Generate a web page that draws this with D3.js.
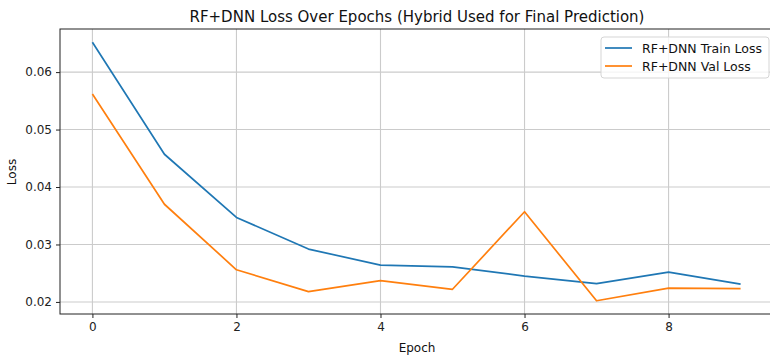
<!DOCTYPE html>
<html>
<head>
<meta charset="utf-8">
<script src="https://cdn.jsdelivr.net/npm/d3@7"></script>
<style>
  body { margin: 0; background: #fff; }
  svg { display: block; font-family: "DejaVu Sans", sans-serif; }
</style>
</head>
<body>
<svg id="chart" width="770" height="357"></svg>
<script>
// epochs and loss values
const epochs = [0, 1, 2, 3, 4, 5, 6, 7, 8, 9];
const trainLoss = [0.0652, 0.0457, 0.0347, 0.0292, 0.0264, 0.0261, 0.0245, 0.0232, 0.0252, 0.0231];
const valLoss = [0.0562, 0.0370, 0.0256, 0.0218, 0.0237, 0.0222, 0.0357, 0.0202, 0.0224, 0.0223];
const xTicks = [0, 2, 4, 6, 8];
const yTicks = [0.02, 0.03, 0.04, 0.05, 0.06];
const seriesNames = ["RF+DNN Train Loss", "RF+DNN Val Loss"];
const colors = ["#1f77b4", "#ff7f0e"];

const margin = {left: 60, top: 29, right: -3, bottom: 43};
const width = 770 - margin.left - margin.right;
const height = 357 - margin.top - margin.bottom;

const svg = d3.select("#chart");
const g = svg.append("g")
  .attr("transform", "translate(" + margin.left + "," + margin.top + ")");

const x = d3.scaleLinear().domain([-0.45, 9.45]).range([0, width]);
const y = d3.scaleLinear().domain([0.0179, 0.0675]).range([height, 0]);

// grid
g.append("g")
  .selectAll("line")
  .data(xTicks)
  .enter()
  .append("line")
  .attr("x1", d => x(d)).attr("x2", d => x(d))
  .attr("y1", 0).attr("y2", height)
  .attr("stroke", "#cbcbcb").attr("stroke-width", 1.1);

g.append("g")
  .selectAll("line")
  .data(yTicks)
  .enter()
  .append("line")
  .attr("x1", 0).attr("x2", width)
  .attr("y1", d => y(d)).attr("y2", d => y(d))
  .attr("stroke", "#cbcbcb").attr("stroke-width", 1.1);

// lines
const line = d3.line()
  .x((d, i) => x(epochs[i]))
  .y(d => y(d));

[trainLoss, valLoss].forEach((s, k) => {
  g.append("path")
    .datum(s)
    .attr("d", line)
    .attr("fill", "none")
    .attr("stroke", colors[k])
    .attr("stroke-width", 1.7)
    .attr("stroke-linejoin", "round");
});

// axes
const xAxis = g.append("g")
  .attr("transform", "translate(0," + height + ")")
  .call(d3.axisBottom(x).tickValues(xTicks).tickFormat(d3.format("d")).tickSizeOuter(0).tickSize(4).tickPadding(4));
const yAxis = g.append("g")
  .call(d3.axisLeft(y).tickValues(yTicks).tickFormat(d3.format(".2f")).tickSizeOuter(0).tickSize(4).tickPadding(4));
[xAxis, yAxis].forEach(a => {
  a.select(".domain").remove();
  a.selectAll("text").attr("font-size", 12).attr("fill", "#222")
    .attr("font-family", "DejaVu Sans, sans-serif");
  a.selectAll("line").attr("stroke", "#222");
});

// frame
g.append("rect")
  .attr("x", 0).attr("y", 0)
  .attr("width", width).attr("height", height)
  .attr("fill", "none").attr("stroke", "#222").attr("stroke-width", 1);

// labels
svg.append("text")
  .attr("x", 417).attr("y", 22)
  .attr("text-anchor", "middle")
  .attr("font-size", 15)
  .attr("fill", "#111")
  .text("RF+DNN Loss Over Epochs (Hybrid Used for Final Prediction)");

svg.append("text")
  .attr("x", 417).attr("y", 352)
  .attr("text-anchor", "middle")
  .attr("font-size", 12)
  .attr("fill", "#111")
  .text("Epoch");

svg.append("text")
  .attr("transform", "translate(16,172) rotate(-90)")
  .attr("text-anchor", "middle")
  .attr("font-size", 12)
  .attr("fill", "#111")
  .text("Loss");

// legend
const lg = svg.append("g").attr("transform", "translate(601,37)");
lg.append("rect")
  .attr("width", 168).attr("height", 41).attr("rx", 3)
  .attr("fill", "#fff").attr("fill-opacity", 0.8)
  .attr("stroke", "#d5d5d5");
seriesNames.forEach((name, k) => {
  const row = lg.append("g").attr("transform", "translate(0," + (11 + k * 18) + ")");
  row.append("line")
    .attr("x1", 4).attr("x2", 31)
    .attr("stroke", colors[k]).attr("stroke-width", 1.7);
  row.append("text")
    .attr("x", 41).attr("y", 4.5)
    .attr("font-size", 12.5)
    .attr("fill", "#111")
    .text(name);
});
</script>
</body>
</html>
